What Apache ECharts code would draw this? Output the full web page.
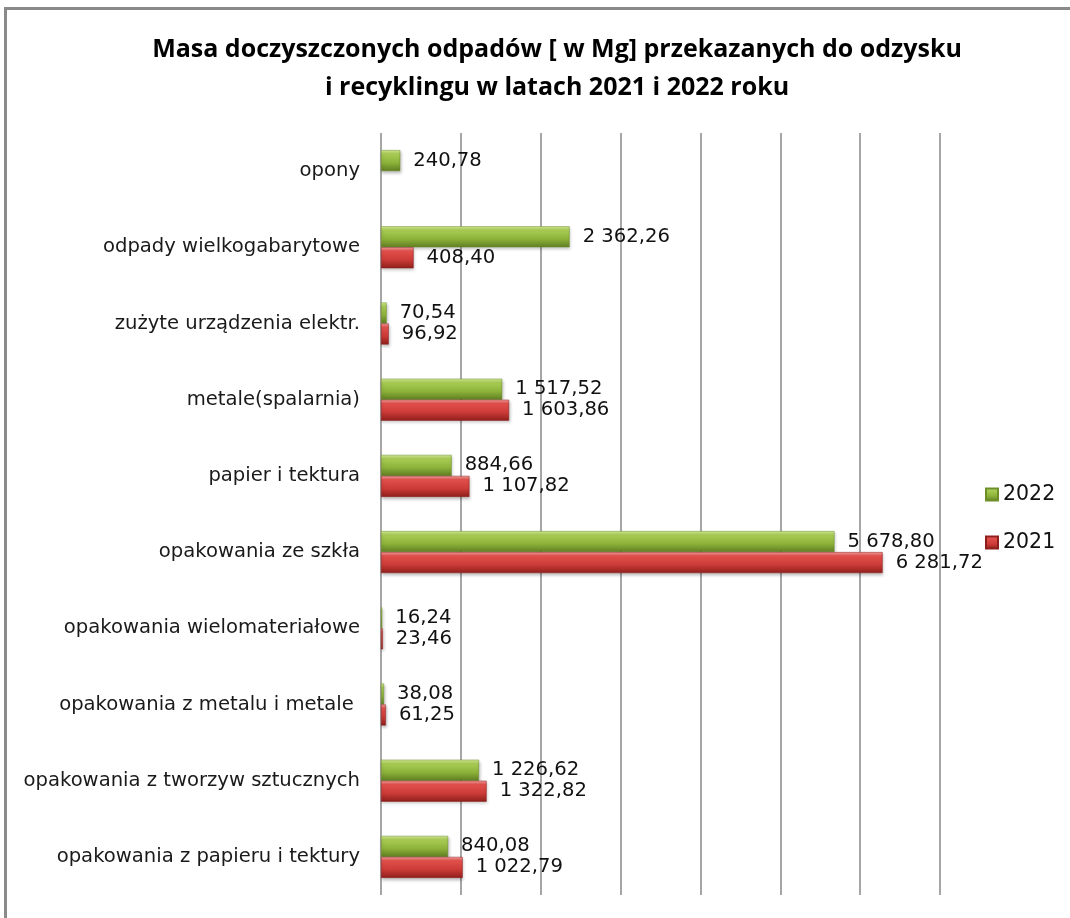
<!DOCTYPE html>
<html>
<head>
<meta charset="utf-8">
<script src="https://cdn.jsdelivr.net/npm/echarts@6/dist/echarts.min.js"></script>
<style>
html,body{margin:0;padding:0;background:#fff;}
#chart{width:1070px;height:918px;}
</style>
</head>
<body>
<div id="chart"></div>
<script>
const categories = [
  'opakowania z papieru i tektury',
  'opakowania z tworzyw sztucznych',
  'opakowania z metalu i metale ',
  'opakowania wielomateriałowe',
  'opakowania ze szkła',
  'papier i tektura',
  'metale(spalarnia)',
  'zużyte urządzenia elektr.',
  'odpady wielkogabarytowe',
  'opony'
];
const values2022 = [840.08, 1226.62, 38.08, 16.24, 5678.80, 884.66, 1517.52, 70.54, 2362.26, 240.78];
const values2021 = [1022.79, 1322.82, 61.25, 23.46, 6281.72, 1107.82, 1603.86, 96.92, 408.40, null];
const seriesNames = ['2022', '2021'];
const titleText = 'Masa doczyszczonych odpadów [ w Mg] przekazanych do odzysku\ni recyklingu w latach 2021 i 2022 roku';

function fmt(v) {
  const parts = v.toFixed(2).split('.');
  const intPart = parts[0].replace(/\B(?=(\d{3})+(?!\d))/g, ' ');
  return intPart + ',' + parts[1];
}

const greenGrad = new echarts.graphic.LinearGradient(0, 0, 0, 1, [
  {offset: 0, color: '#d6ec98'},
  {offset: 0.18, color: '#a9cc55'},
  {offset: 0.6, color: '#8db33a'},
  {offset: 1, color: '#5f7d22'}
]);
const redGrad = new echarts.graphic.LinearGradient(0, 0, 0, 1, [
  {offset: 0, color: '#f5a3a0'},
  {offset: 0.18, color: '#e2504c'},
  {offset: 0.6, color: '#cc3b37'},
  {offset: 1, color: '#8e1f1c'}
]);

const chart = echarts.init(document.getElementById('chart'));
const labelFont = 'DejaVu Sans';
const barShadow = {shadowBlur: 3, shadowOffsetX: 1, shadowOffsetY: 2, shadowColor: 'rgba(0,0,0,0.25)'};
chart.setOption({
  animation: false,
  backgroundColor: '#ffffff',
  title: {
    text: titleText,
    left: 552,
    textAlign: 'center',
    top: 26,
    textStyle: {
      fontFamily: 'Open Sans',
      fontWeight: 'bold',
      fontSize: 25,
      lineHeight: 38,
      color: '#000'
    }
  },
  graphic: [{
    type: 'rect',
    shape: {x: 5.5, y: 8.5, width: 1200, height: 1200},
    style: {fill: 'none', stroke: '#8a8a8a', lineWidth: 3},
    silent: true
  }],
  legend: {
    orient: 'vertical',
    left: 980,
    top: 479,
    data: seriesNames,
    itemWidth: 12,
    itemHeight: 12,
    itemGap: 27,
    icon: 'rect',
    textStyle: {fontFamily: labelFont, fontSize: 20.5, color: '#111'}
  },
  grid: {left: 381, top: 133, width: 559, height: 762, containLabel: false},
  xAxis: {
    type: 'value',
    min: 0,
    max: 7000,
    interval: 1000,
    axisLabel: {show: false},
    axisLine: {show: false},
    axisTick: {show: false},
    splitLine: {show: true, lineStyle: {color: '#a6a6a6', width: 2}}
  },
  yAxis: {
    type: 'category',
    data: categories,
    axisLine: {show: false},
    axisTick: {show: false},
    axisLabel: {
      margin: 21,
      fontFamily: labelFont,
      fontSize: 19.6,
      color: '#1a1a1a',
      padding: [4, 0, 0, 0]
    }
  },
  series: [
    {
      name: '2022',
      type: 'bar',
      data: values2022,
      barWidth: 21,
      barGap: '0%',
      itemStyle: Object.assign({color: greenGrad, borderColor: '#6d8f2a', borderWidth: 0.5}, barShadow),
      label: {
        show: true, position: 'right', distance: 13,
        fontFamily: labelFont, fontSize: 19.6, color: '#111',
        formatter: p => p.value == null ? '' : fmt(p.value)
      }
    },
    {
      name: '2021',
      type: 'bar',
      data: values2021,
      barWidth: 21,
      barGap: '0%',
      itemStyle: Object.assign({color: redGrad, borderColor: '#8e1f1c', borderWidth: 0.5}, barShadow),
      label: {
        show: true, position: 'right', distance: 13,
        fontFamily: labelFont, fontSize: 19.6, color: '#111',
        formatter: p => p.value == null ? '' : fmt(p.value)
      }
    }
  ]
});
</script>
</body>
</html>
